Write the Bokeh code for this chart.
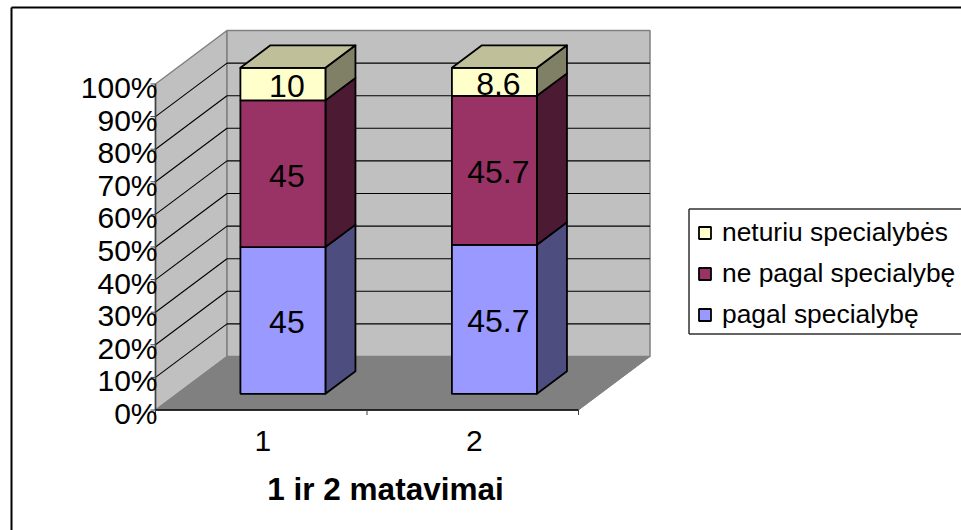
from bokeh.plotting import figure
from bokeh.models import (Range1d, LinearAxis, FixedTicker, Legend, LegendItem)
from bokeh.core.properties import value
from bokeh.embed import file_html
from bokeh.resources import INLINE

# ---- data
categories = [1, 2]
series_names = ["pagal specialybę", "ne pagal specialybę", "neturiu specialybės"]
pagal = [45, 45.7]
ne_pagal = [45, 45.7]
neturiu = [10, 8.6]
y_ticks = [0, 10, 20, 30, 40, 50, 60, 70, 80, 90, 100]
x_title = "1 ir 2 matavimai"

# ---- layout (pixels of the picture)
W, H = 961, 530
X_PX = 211.5      # pixels per category
Y_PX = 3.26       # pixels per percent
X0_PAGE, Y0_PAGE = 155, 409.5
DX, DY = 71.5 / X_PX, 53.5 / Y_PX   # full depth of the box in data units
Z0, Z1 = 0.303, 0.723              # bar depth, as share of box depth
BW = 0.402
FONT = "Liberation Sans"

x_start = 0.5 - X0_PAGE / X_PX
y_start = -(H - Y0_PAGE) / Y_PX
x_rng = Range1d(x_start, x_start + W / X_PX)
y_rng = Range1d(y_start, y_start + H / Y_PX)


def px_x(px):
    return x_start + px / X_PX


def px_y(py):
    return y_start + (H - py) / Y_PX


p = figure(width=W, height=H, output_backend="svg", toolbar_location=None,
           x_range=x_rng, y_range=y_rng, min_border=0, outline_line_color=None,
           x_axis_type=None, y_axis_type=None)
p.grid.visible = False
p.background_fill_color = "white"
p.border_fill_color = "white"

XL, XR = 0.5, 2.5
TOP = 100
WALL, FLOOR, EDGE = "#C0C0C0", "#808080", "#808080"

# walls and floor
p.patch([XL, XL + DX, XL + DX, XL], [0, DY, TOP + DY, TOP], fill_color=WALL, line_color=EDGE, line_width=1.5)
p.patch([XL + DX, XR + DX, XR + DX, XL + DX], [DY, DY, TOP + DY, TOP + DY], fill_color=WALL, line_color=EDGE, line_width=1.5)
p.patch([XL, XR, XR + DX, XL + DX], [0, 0, DY, DY], fill_color=FLOOR, line_color=EDGE, line_width=1)

# gridlines on walls
grid = y_ticks[1:-1]
p.segment([XL] * len(grid), grid, [XL + DX] * len(grid), [g + DY for g in grid], line_color="black", line_width=1.1)
p.segment([XL + DX] * len(grid), [g + DY for g in grid], [XR + DX] * len(grid), [g + DY for g in grid],
          line_color="black", line_width=1.1)

# axes lines and ticks
tick_len_x = 5 / X_PX
tick_len_y = 5 / Y_PX
p.segment([XL], [0], [XL], [TOP], line_color="#404040", line_width=1.5)
p.segment([XL], [0], [XR], [0], line_color="black", line_width=1.3)
p.segment([XL - tick_len_x] * len(y_ticks), y_ticks, [XL] * len(y_ticks), y_ticks, line_color="#404040", line_width=1)
p.segment([1.5, 2.5, 0.5], [0, 0, 0], [1.5, 2.5, 0.5], [-tick_len_y] * 3, line_color="#404040", line_width=1)

# bars
front = ["#9999FF", "#993366", "#FFFFCC"]
side = ["#4D4D80", "#4D1A33", "#808066"]
top_col = "#BFBF99"
values = [pagal, ne_pagal, neturiu]
bottoms = [0.0, 0.0]
legend_rends = []
lab_x, lab_y, lab_t = [], [], []
BAR_LW = 1.8
for vals, fc, sc in zip(values, front, side):
    tops = [b + v for b, v in zip(bottoms, vals)]
    l = [c - BW / 2 + Z0 * DX for c in categories]
    r = [c + BW / 2 + Z0 * DX for c in categories]
    b0 = [b + Z0 * DY for b in bottoms]
    t0 = [t + Z0 * DY for t in tops]
    dzx = (Z1 - Z0) * DX
    dzy = (Z1 - Z0) * DY
    xs = [[ri, ri + dzx, ri + dzx, ri] for ri in r]
    ys = [[bi, bi + dzy, ti + dzy, ti] for bi, ti in zip(b0, t0)]
    p.patches(xs, ys, fill_color=sc, line_color="black", line_width=BAR_LW, line_join="round")
    q = p.quad(left=l, right=r, bottom=b0, top=t0, fill_color=fc, line_color="black", line_width=BAR_LW)
    legend_rends.append(q)
    for c, b, t, v in zip(categories, b0, t0, vals):
        lab_x.append(c + Z0 * DX)
        lab_y.append((b + t) / 2)
        lab_t.append(str(v))
    bottoms = tops

# roof of the top segment
xs = [[ri - BW, ri - BW + dzx, ri + dzx, ri] for ri in r]
ys = [[ti, ti + dzy, ti + dzy, ti] for ti in t0]
p.patches(xs, ys, fill_color=top_col, line_color="black", line_width=BAR_LW, line_join="round")

# value labels
p.text(lab_x, lab_y, text=lab_t, text_font=value(FONT), text_font_size="32px", text_color="black",
       text_align="center", text_baseline="middle", x_offset=4, y_offset=2)

# axis title
p.text([px_x(385)], [px_y(488)], text=[x_title], text_font=value(FONT),
       text_font_size="31.5px", text_font_style="bold", text_color="black",
       text_align="center", text_baseline="middle")

# real axes, with text only (lines are drawn on the 3D box)
p.extra_y_ranges = {"lab": Range1d(y_start + 3.5 / Y_PX, y_start + 3.5 / Y_PX + H / Y_PX)}
yax = LinearAxis(y_range_name="lab", fixed_location=XL + 2 / X_PX, ticker=FixedTicker(ticks=y_ticks),
                 major_tick_in=0, major_tick_out=0, minor_tick_in=0, minor_tick_out=0,
                 axis_line_color=None, major_tick_line_color=None, minor_tick_line_color=None,
                 major_label_standoff=0, major_label_text_font=FONT, major_label_text_font_size="30px",
                 major_label_text_color="black", major_label_overrides={t: f"{t}%" for t in y_ticks})
p.add_layout(yax, "left")
p.extra_x_ranges = {"lab": Range1d(x_start - 1.5 / X_PX, x_start - 1.5 / X_PX + W / X_PX)}
xax = LinearAxis(x_range_name="lab", fixed_location=-9 / Y_PX, ticker=FixedTicker(ticks=categories),
                 major_tick_in=0, major_tick_out=0, minor_tick_in=0, minor_tick_out=0,
                 axis_line_color=None, major_tick_line_color=None, minor_tick_line_color=None,
                 major_label_standoff=12, major_label_text_font=FONT, major_label_text_font_size="30px",
                 major_label_text_color="black", major_label_overrides={c: str(c) for c in categories})
p.add_layout(xax, "below")

# outer frame: only the top and left edges reach inside the picture
p.segment([px_x(11), px_x(11)], [px_y(7), px_y(7)], [px_x(W), px_x(11)], [px_y(7), px_y(H)],
          line_color="black", line_width=2)

# legend box (its right edge falls outside the picture)
p.segment([px_x(688.5), px_x(688.5), px_x(688.5)], [px_y(208.5), px_y(208.5), px_y(333.5)],
          [px_x(W), px_x(688.5), px_x(W)], [px_y(208.5), px_y(333.5), px_y(333.5)],
          line_color="#303030", line_width=1.5)

# legend
items = [LegendItem(label=n, renderers=[r_]) for n, r_ in zip(series_names, legend_rends)][::-1]
legend = Legend(items=items, location=(697, H - 330), orientation="vertical",
                label_text_font=FONT, label_text_font_size="26.4px", label_text_color="black",
                glyph_width=15, glyph_height=15, label_height=26, label_width=200, label_standoff=10,
                spacing=10, padding=0, margin=0, border_line_color=None,
                background_fill_alpha=0)
p.add_layout(legend, "center")

open("out.html", "w").write(file_html(p, INLINE))
